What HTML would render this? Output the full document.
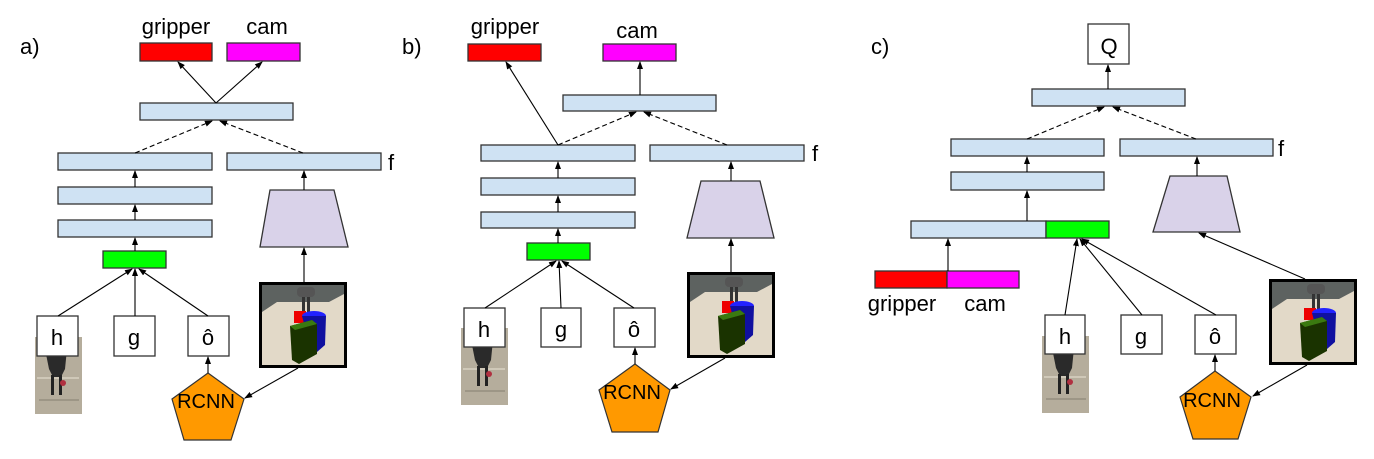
<!DOCTYPE html>
<html><head><meta charset="utf-8"><style>
html,body{margin:0;padding:0;background:#fff;}
svg{display:block;font-family:"Liberation Sans",Arial,sans-serif;}
</style></head><body>
<svg width="1374" height="459" viewBox="0 0 1374 459" xmlns="http://www.w3.org/2000/svg">
<defs>
<marker id="ar" markerWidth="8" markerHeight="8" refX="7" refY="4" orient="auto" markerUnits="userSpaceOnUse">
<path d="M0,1 L8,4 L0,7 z" fill="#000"/></marker>
<g id="scene">
<rect x="0" y="0" width="88" height="86" fill="#000"/>
<rect x="3" y="3" width="82" height="80" fill="#e2d9c8"/>
<polygon points="3,3 85,3 85,12 70,20 18,20 3,30" fill="#5d6260"/>
<rect x="43" y="14" width="3" height="20" fill="#333"/><rect x="48" y="14" width="3" height="20" fill="#333"/>
<rect x="38" y="5" width="18" height="10" rx="4" fill="#555"/>
<rect x="35" y="29" width="12" height="12" fill="#e00"/>
<ellipse cx="55" cy="34" rx="12" ry="5" fill="#22f"/>
<polygon points="43,34 67,34 66,63 58,70 50,60" fill="#1010a0"/>
<polygon points="31,44 53,38 58,42 58,72 40,82 33,78" fill="#1a3300"/>
<polygon points="31,44 53,38 58,42 36,48" fill="#3a7a10"/>
</g>
<g id="grip">
<rect x="0" y="0" width="47" height="77" fill="#b5ad9c"/>
<rect x="3" y="10" width="40" height="2" fill="#cfc8b8"/><rect x="2" y="40" width="42" height="2" fill="#cfc8b8"/><rect x="4" y="62" width="40" height="2" fill="#9d9686"/>
<path d="M10,12 L32,12 L30,32 L26,40 L18,40 L14,32 z" fill="#2a2a2a"/>
<rect x="16" y="38" width="3" height="20" fill="#222"/><rect x="24" y="38" width="3" height="20" fill="#222"/>
<circle cx="28" cy="46" r="3" fill="#b03040"/>
</g>
</defs>
<g stroke="#333" stroke-width="1.3" fill="#cfe2f3">
<rect x="140" y="43" width="72" height="18" fill="#f00"/>
<rect x="227" y="43" width="73" height="18" fill="#f0f"/>
<rect x="140" y="103" width="153" height="17"/>
<rect x="58" y="153" width="154" height="17"/>
<rect x="58" y="187" width="154" height="17"/>
<rect x="58" y="220" width="154" height="17"/>
<rect x="227" y="153" width="154" height="17"/>
<polygon points="270,190 334,190 348,247 260,247" fill="#d9d2e9"/>
<rect x="103" y="251" width="63" height="17" fill="#0f0"/>
<rect x="468" y="44" width="73" height="17" fill="#f00"/>
<rect x="603" y="44" width="73" height="17" fill="#f0f"/>
<rect x="563" y="95" width="153" height="16"/>
<rect x="481" y="145" width="154" height="16"/>
<rect x="481" y="178" width="154" height="17"/>
<rect x="481" y="212" width="154" height="16"/>
<rect x="650" y="145" width="154" height="16"/>
<polygon points="701,181 760,181 774,238 687,238" fill="#d9d2e9"/>
<rect x="527" y="243" width="63" height="17" fill="#0f0"/>
<rect x="1088" y="24" width="41" height="40" fill="#fff"/>
<rect x="1032" y="89" width="153" height="17"/>
<rect x="951" y="139" width="153" height="17"/>
<rect x="951" y="172" width="153" height="18"/>
<rect x="1120" y="139" width="153" height="17"/>
<polygon points="1170,176 1227,176 1240,232 1153,232" fill="#d9d2e9"/>
<rect x="911" y="221" width="135" height="17"/>
<rect x="1046" y="221" width="63" height="17" fill="#0f0"/>
<rect x="875" y="271" width="72" height="17" fill="#f00"/>
<rect x="947" y="271" width="72" height="17" fill="#f0f"/>
</g>
<use href="#grip" x="35" y="337"/>
<use href="#grip" x="461" y="328"/>
<use href="#grip" x="1042" y="336"/>
<use href="#scene" x="259" y="282"/>
<use href="#scene" x="687" y="272"/>
<use href="#scene" x="1269" y="279"/>
<g stroke="#333" stroke-width="1.3" fill="#fff">
<rect x="37" y="316" width="41" height="40"/><rect x="114" y="316" width="41" height="40"/><rect x="188" y="316" width="41" height="40"/>
<rect x="464" y="308" width="41" height="39"/><rect x="541" y="308" width="40" height="39"/><rect x="614" y="308" width="41" height="39"/>
<rect x="1045" y="315" width="40" height="39"/><rect x="1121" y="315" width="41" height="39"/><rect x="1195" y="315" width="41" height="39"/>
</g>
<g stroke="#333" stroke-width="1.2" fill="#f90">
<polygon points="208,373 244,399 231,440 184,440 172,399"/>
<polygon points="635,364 670,390 658,432 612,432 599,390"/>
<polygon points="1215,371 1251,397 1238,439 1193,439 1180,397"/>
</g>
<g stroke="#000" stroke-width="1.1" fill="none" marker-end="url(#ar)">
<line x1="216" y1="103" x2="178" y2="62"/><line x1="216" y1="103" x2="262" y2="62"/>
<line x1="135" y1="153" x2="212" y2="121" stroke-dasharray="5,3"/><line x1="303" y1="153" x2="220" y2="121" stroke-dasharray="5,3"/>
<line x1="135" y1="187" x2="135" y2="171"/><line x1="135" y1="220" x2="135" y2="205"/><line x1="135" y1="251" x2="135" y2="238"/>
<line x1="304" y1="190" x2="304" y2="171"/><line x1="304" y1="282" x2="304" y2="248"/>
<line x1="58" y1="316" x2="132" y2="269"/><line x1="135" y1="316" x2="135" y2="269"/><line x1="208" y1="316" x2="139" y2="269"/>
<line x1="208" y1="373" x2="208" y2="357"/><line x1="298" y1="368" x2="245" y2="398"/>
<line x1="558" y1="145" x2="506" y2="62"/><line x1="640" y1="95" x2="640" y2="62"/>
<line x1="558" y1="145" x2="636" y2="112" stroke-dasharray="5,3"/><line x1="727" y1="145" x2="644" y2="112" stroke-dasharray="5,3"/>
<line x1="558" y1="178" x2="558" y2="162"/><line x1="558" y1="212" x2="558" y2="196"/><line x1="558" y1="243" x2="558" y2="229"/>
<line x1="731" y1="181" x2="731" y2="162"/><line x1="731" y1="272" x2="731" y2="239"/>
<line x1="485" y1="308" x2="556" y2="261"/><line x1="561" y1="308" x2="559" y2="261"/><line x1="634" y1="308" x2="562" y2="261"/>
<line x1="635" y1="364" x2="635" y2="348"/><line x1="725" y1="358" x2="671" y2="389"/>
<line x1="1108" y1="89" x2="1108" y2="65"/>
<line x1="1027" y1="139" x2="1104" y2="107" stroke-dasharray="5,3"/><line x1="1196" y1="139" x2="1113" y2="107" stroke-dasharray="5,3"/>
<line x1="1027" y1="172" x2="1027" y2="157"/><line x1="1027" y1="221" x2="1027" y2="191"/>
<line x1="1197" y1="176" x2="1197" y2="157"/>
<line x1="948" y1="271" x2="948" y2="239"/>
<line x1="1065" y1="315" x2="1077" y2="239"/><line x1="1142" y1="315" x2="1080" y2="239"/><line x1="1216" y1="315" x2="1082" y2="239"/>
<line x1="1305" y1="279" x2="1199" y2="233"/>
<line x1="1215" y1="371" x2="1215" y2="355"/><line x1="1307" y1="365" x2="1253" y2="396"/>
</g>
<g fill="#000" font-size="22">
<text x="20" y="54">a)</text><text x="402" y="54">b)</text><text x="871" y="54">c)</text>
<text x="176" y="34" text-anchor="middle">gripper</text><text x="267" y="34" text-anchor="middle">cam</text>
<text x="505" y="34" text-anchor="middle">gripper</text><text x="637" y="38" text-anchor="middle">cam</text>
<text x="902" y="311" text-anchor="middle">gripper</text><text x="985" y="311" text-anchor="middle">cam</text>
<text x="388" y="170">f</text><text x="812" y="161">f</text><text x="1278" y="156">f</text>
<text x="1109" y="54" text-anchor="middle">Q</text>
<text x="57" y="345" text-anchor="middle">h</text><text x="134" y="345" text-anchor="middle">g</text><text x="208" y="345" text-anchor="middle">ô</text>
<text x="484" y="337" text-anchor="middle">h</text><text x="561" y="337" text-anchor="middle">g</text><text x="634" y="337" text-anchor="middle">ô</text>
<text x="1065" y="344" text-anchor="middle">h</text><text x="1141" y="344" text-anchor="middle">g</text><text x="1215" y="344" text-anchor="middle">ô</text>
<text x="206" y="408" text-anchor="middle" font-size="20">RCNN</text>
<text x="632" y="399" text-anchor="middle" font-size="20">RCNN</text>
<text x="1212" y="407" text-anchor="middle" font-size="20">RCNN</text>
</g>
</svg>
</body></html>
